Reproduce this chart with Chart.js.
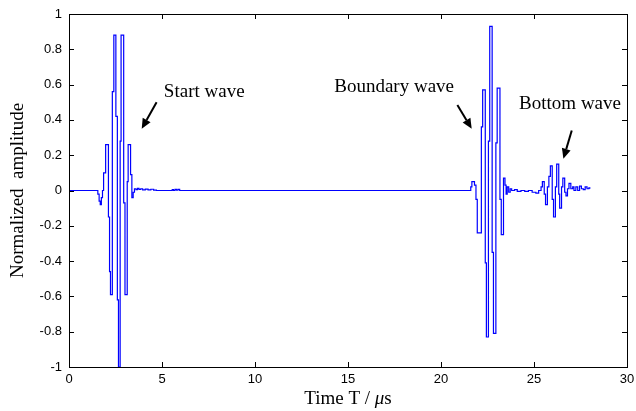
<!DOCTYPE html>
<html>
<head>
<meta charset="utf-8">
<script src="https://cdn.jsdelivr.net/npm/chart.js@4/dist/chart.umd.min.js"></script>
<style>
  html, body { margin: 0; background: #fff; }
</style>
</head>
<body>
<canvas id="waveChart" width="636" height="411"></canvas>
<script>
// change points of the (sampled) waveform: time in µs, normalized amplitude
const timeUs = [
  0, 1.55, 1.62, 1.68, 1.74, 1.80, 1.86, 1.97, 2.12, 2.18, 2.23, 2.33, 2.41, 2.52, 2.60, 2.66,
  2.75, 2.80, 2.94, 3.01, 3.13, 3.18, 3.31, 3.38, 3.45, 3.52, 3.60, 3.68, 3.76, 3.86, 3.96,
  4.10, 4.25, 4.40, 4.55, 4.70, 5.55, 5.62, 5.70, 5.78, 5.86, 5.95,
  21.60, 21.66, 21.80, 21.88, 21.95, 22.17, 22.24, 22.38, 22.44, 22.55, 22.62, 22.75, 22.82,
  22.95, 23.02, 23.17, 23.24, 23.36, 23.44, 23.50, 23.56, 23.64, 23.72, 23.80, 23.95, 24.10,
  24.30, 24.50, 24.70, 24.90, 25.10, 25.25,
  25.38, 25.45, 25.55, 25.62, 25.72, 25.80, 25.88, 25.98, 26.05, 26.15, 26.22, 26.33, 26.38,
  26.48, 26.55, 26.65, 26.72, 26.80, 26.88, 26.98, 27.08, 27.15, 27.25, 27.35, 27.45, 27.55,
  27.65, 27.75, 27.85, 27.95, 28.0
];
const amplitude = [
  0, -0.02, -0.06, -0.08, -0.04, 0.0, 0.1, 0.26, -0.15, -0.46, -0.59, 0.56, 0.88, 0.42, -0.62, -1.0,
  0.28, 0.88, -0.07, -0.59, 0.05, 0.26, 0.09, -0.04, -0.01, 0.01, 0.005, 0.012, 0.006, 0.01, 0.004,
  0.008, 0.003, 0.007, 0.002, 0.0, 0.005, 0.0, 0.006, 0.002, 0.006, 0.0,
  0.02, 0.05, 0.03, -0.05, -0.24, 0.36, 0.57, -0.41, -0.83, 0.28, 0.93, -0.35, -0.81,
  0.27, 0.58, -0.05, -0.25, 0.07, 0.03, -0.02, 0.02, -0.01, 0.01, 0.0, 0.005, -0.005,
  0.0, -0.005, 0.0, -0.01, -0.015, 0.0,
  0.02, 0.05, -0.02, -0.08, 0.02, 0.08, 0.14, -0.05, -0.15, 0.02, 0.15, -0.02, -0.1,
  0.02, 0.07, -0.01, -0.03, 0.01, 0.04, 0.01, 0.02, 0.0, 0.02, 0.0, 0.025, 0.01,
  0.005, 0.02, 0.01, 0.015, 0.01
];

const xTicks = [0, 5, 10, 15, 20, 25, 30];
const yTicks = [-1, -0.8, -0.6, -0.4, -0.2, 0, 0.2, 0.4, 0.6, 0.8, 1];

const noteTexts = ["Start wave", "Boundary wave", "Bottom wave"];
const noteAt = [[5.1, 0.56], [14.26, 0.585], [24.2, 0.49]];
const arrowFrom = [[4.71, 0.50], [20.88, 0.485], [27.03, 0.34]];
const arrowTo = [[3.91, 0.35], [21.65, 0.35], [26.58, 0.18]];

const serif = "'Liberation Serif', 'Times New Roman', serif";
const sans = "'Liberation Sans', Arial, sans-serif";

const points = timeUs.map((t, i) => ({ x: t, y: amplitude[i] }));

// box around the plot with inward ticks, like the original figure
const frameTicks = {
  id: "frameTicks",
  afterDraw(chart) {
    const { ctx, chartArea: a, scales } = chart;
    const len = 5;
    ctx.save();
    ctx.strokeStyle = "#000";
    ctx.lineWidth = 1;
    ctx.strokeRect(a.left + 0.5, a.top + 0.5, a.right - a.left, a.bottom - a.top);
    ctx.beginPath();
    xTicks.forEach((v) => {
      const px = Math.round(scales.x.getPixelForValue(v)) + 0.5;
      ctx.moveTo(px, a.bottom); ctx.lineTo(px, a.bottom - len);
      ctx.moveTo(px, a.top); ctx.lineTo(px, a.top + len);
    });
    yTicks.forEach((v) => {
      const py = Math.round(scales.y.getPixelForValue(v)) + 0.5;
      ctx.moveTo(a.left, py); ctx.lineTo(a.left + len, py);
      ctx.moveTo(a.right, py); ctx.lineTo(a.right - len, py);
    });
    ctx.stroke();
    ctx.restore();
  },
};

// axis titles, wave labels and arrows
const labels = {
  id: "labels",
  afterDraw(chart) {
    const { ctx, chartArea: a, scales } = chart;
    const X = (v) => scales.x.getPixelForValue(v);
    const Y = (v) => scales.y.getPixelForValue(v);
    ctx.save();
    ctx.fillStyle = "#000";
    ctx.strokeStyle = "#000";

    // y title
    ctx.save();
    ctx.translate(18, (a.top + a.bottom) / 2);
    ctx.rotate(-Math.PI / 2);
    ctx.font = "19px " + serif;
    ctx.textAlign = "center";
    ctx.textBaseline = "middle";
    ctx.fillText("Normalized  amplitude", 0, 0);
    ctx.restore();

    // x title with italic mu
    ctx.font = "19px " + serif;
    ctx.textBaseline = "middle";
    const p1 = "Time T / ", p2 = "\u03bc", p3 = "s";
    const w1 = ctx.measureText(p1).width;
    ctx.font = "italic 19px " + serif;
    const w2 = ctx.measureText(p2).width;
    ctx.font = "19px " + serif;
    const w3 = ctx.measureText(p3).width;
    let x0 = (a.left + a.right) / 2 - (w1 + w2 + w3) / 2;
    const ty = 399;
    ctx.textAlign = "left";
    ctx.fillText(p1, x0, ty);
    ctx.font = "italic 19px " + serif;
    ctx.fillText(p2, x0 + w1, ty);
    ctx.font = "19px " + serif;
    ctx.fillText(p3, x0 + w1 + w2, ty);

    // notes
    ctx.font = "19px " + serif;
    ctx.textAlign = "left";
    ctx.textBaseline = "middle";
    noteTexts.forEach((t, i) => ctx.fillText(t, X(noteAt[i][0]), Y(noteAt[i][1])));

    // arrows
    arrowFrom.forEach((f, i) => {
      const x1 = X(f[0]), y1 = Y(f[1]);
      const x2 = X(arrowTo[i][0]), y2 = Y(arrowTo[i][1]);
      const ang = Math.atan2(y2 - y1, x2 - x1);
      const head = 10, hw = 4.5;
      const bx = x2 - head * Math.cos(ang), by = y2 - head * Math.sin(ang);
      ctx.lineWidth = 2;
      ctx.beginPath();
      ctx.moveTo(x1, y1);
      ctx.lineTo(bx, by);
      ctx.stroke();
      ctx.beginPath();
      ctx.moveTo(x2, y2);
      ctx.lineTo(bx + hw * Math.sin(ang), by - hw * Math.cos(ang));
      ctx.lineTo(bx - hw * Math.sin(ang), by + hw * Math.cos(ang));
      ctx.closePath();
      ctx.fill();
    });
    ctx.restore();
  },
};

new Chart(document.getElementById("waveChart"), {
  type: "line",
  data: {
    datasets: [
      {
        data: points,
        borderColor: "#0000ff",
        borderWidth: 1.2,
        pointRadius: 0,
        stepped: true,
        fill: false,
      },
    ],
  },
  options: {
    responsive: false,
    animation: false,
    devicePixelRatio: 1,
    layout: { padding: { top: 14, right: 9, left: 0, bottom: 0 } },
    plugins: { legend: { display: false }, tooltip: { enabled: false } },
    scales: {
      x: {
        type: "linear",
        min: 0,
        max: 30,
        afterBuildTicks: (s) => { s.ticks = xTicks.map((v) => ({ value: v })); },
        afterFit: (s) => { s.height = 44; s.paddingRight = 0; s.paddingLeft = 0; },
        grid: { display: false, drawTicks: false },
        border: { display: false },
        ticks: { color: "#000", font: { family: sans, size: 13 }, padding: 5, maxRotation: 0 },
      },
      y: {
        type: "linear",
        min: -1,
        max: 1,
        afterBuildTicks: (s) => { s.ticks = yTicks.map((v) => ({ value: v })); },
        afterFit: (s) => { s.width = 69; s.paddingTop = 0; s.paddingBottom = 0; },
        grid: { display: false, drawTicks: false },
        border: { display: false },
        ticks: {
          color: "#000",
          font: { family: sans, size: 13 },
          padding: 7,
          callback: (v) => String(Number(Number(v).toFixed(1))),
        },
      },
    },
  },
  plugins: [frameTicks, labels],
});
</script>
</body>
</html>
